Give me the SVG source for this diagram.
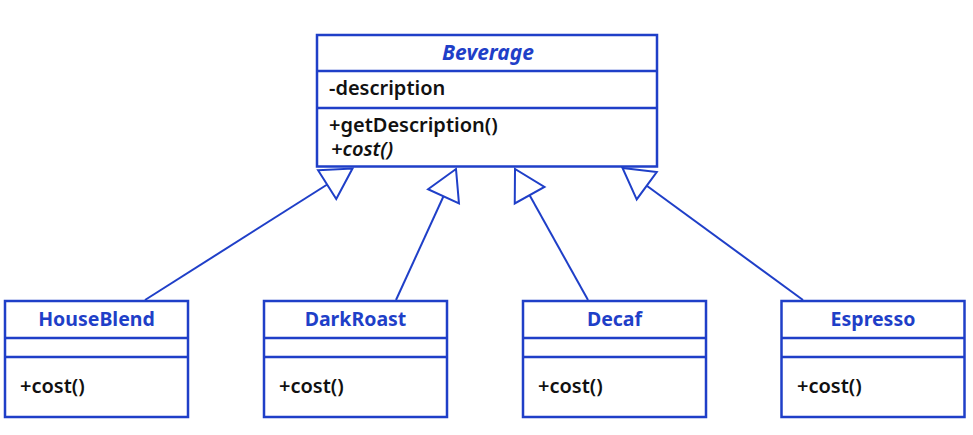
<svg xmlns="http://www.w3.org/2000/svg" width="973" height="435" viewBox="0 0 973 435">
<style>
.box{fill:#fff;stroke:#1f3fc8;stroke-width:2.5}
.div{stroke:#1f3fc8;stroke-width:2.5}
.conn{stroke:#1f3fc8;stroke-width:2;fill:none}
.name{font-family:"Noto Sans","Open Sans",sans-serif;font-size:19.5px;font-weight:bold;fill:#1f3fc8;text-anchor:middle}
.mem{font-family:"Noto Sans","Open Sans",sans-serif;font-size:20px;font-weight:600;fill:#111}
.it{font-style:italic}
</style>
<defs>
<marker id="tri" markerUnits="userSpaceOnUse" markerWidth="34" markerHeight="38" refX="31" refY="19" orient="auto" viewBox="0 0 34 38" overflow="visible">
<path d="M1,2 L31,19 L1,36 Z" fill="#fff" stroke="#1f3fc8" stroke-width="2" stroke-linejoin="miter"/>
</marker>
</defs>
<rect width="973" height="435" fill="#fff"/>
<g id="connectors">
<line class="conn" x1="145" y1="300" x2="352.5" y2="168.5" marker-end="url(#tri)"/>
<line class="conn" x1="396" y1="300" x2="456" y2="169" marker-end="url(#tri)"/>
<line class="conn" x1="588" y1="300" x2="515" y2="169" marker-end="url(#tri)"/>
<line class="conn" x1="803" y1="300" x2="622.5" y2="168" marker-end="url(#tri)"/>
</g>
<g id="Beverage">
<rect class="box" x="317" y="35" width="340" height="131.5"/>
<line class="div" x1="317" y1="71" x2="657" y2="71"/>
<line class="div" x1="317" y1="108" x2="657" y2="108"/>
<text class="name it" x="488" y="60" style="font-size:21px">Beverage</text>
<text class="mem" x="329" y="95">-description</text>
<text class="mem" x="329" y="132">+getDescription()</text>
<text class="mem it" x="331" y="155.5">+cost()</text>
</g>
<g id="HouseBlend">
<rect class="box" x="5" y="301" width="183" height="116"/>
<line class="div" x1="5" y1="338" x2="188" y2="338"/>
<line class="div" x1="5" y1="357" x2="188" y2="357"/>
<text class="name" x="96.5" y="326">HouseBlend</text>
<text class="mem" x="20" y="393">+cost()</text>
</g>
<g id="DarkRoast">
<rect class="box" x="264" y="301" width="183" height="116"/>
<line class="div" x1="264" y1="338" x2="447" y2="338"/>
<line class="div" x1="264" y1="357" x2="447" y2="357"/>
<text class="name" x="355.5" y="326">DarkRoast</text>
<text class="mem" x="279" y="393">+cost()</text>
</g>
<g id="Decaf">
<rect class="box" x="523" y="301" width="183" height="116"/>
<line class="div" x1="523" y1="338" x2="706" y2="338"/>
<line class="div" x1="523" y1="357" x2="706" y2="357"/>
<text class="name" x="614.5" y="326">Decaf</text>
<text class="mem" x="538" y="393">+cost()</text>
</g>
<g id="Espresso">
<rect class="box" x="781.5" y="301" width="183" height="116"/>
<line class="div" x1="781.5" y1="338" x2="964.5" y2="338"/>
<line class="div" x1="781.5" y1="357" x2="964.5" y2="357"/>
<text class="name" x="873" y="326">Espresso</text>
<text class="mem" x="797" y="393">+cost()</text>
</g>
</svg>
